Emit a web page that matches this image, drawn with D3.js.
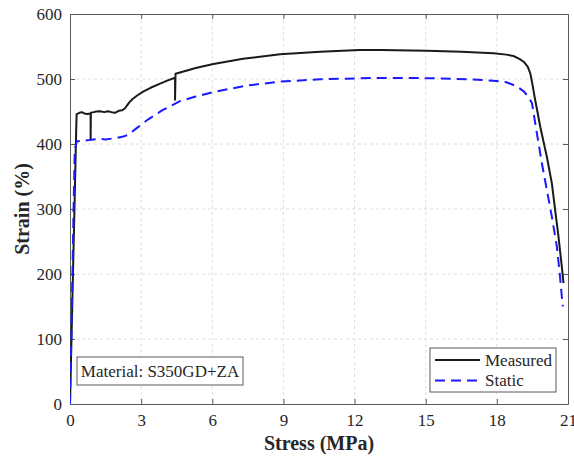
<!DOCTYPE html>
<html>
<head>
<meta charset="utf-8">
<script src="https://cdn.jsdelivr.net/npm/d3@7/dist/d3.min.js"></script>
<style>
  body { margin: 0; background: #fff; }
  text { font-family: "Liberation Serif", "Times New Roman", serif; }
</style>
</head>
<body>
<svg id="chart" width="574" height="457"></svg>
<script>
// Measured curve (stress, strain)
const measuredStress = [0, 0.1, 0.2, 0.26, 0.28, 0.4, 0.5, 0.6, 0.73, 0.87, 0.87, 0.88, 1.0, 1.1, 1.27, 1.45, 1.6, 1.75, 1.9, 2.05, 2.2, 2.32, 2.4, 2.5, 2.65, 2.85, 3.1, 3.4, 3.8, 4.1, 4.43, 4.43, 4.45, 4.64, 5.3, 6.05, 7.3, 8.86, 10.55, 12.2, 13.1, 15.05, 16.5, 17.86, 18.4, 18.7, 18.95, 19.13, 19.3, 19.41, 19.5, 19.59, 19.83, 20.11, 20.32, 20.46, 20.6, 20.74, 20.81];
const measuredStrain = [0, 160, 320, 420, 446, 448, 449, 447, 446, 447, 407, 448, 449, 450, 450.5, 449, 450.5, 449, 448, 451, 452, 455, 459, 464, 469.5, 475, 481, 486.5, 493, 497.5, 502, 468, 508, 510, 517, 523, 531, 538, 542, 544.5, 544.6, 543.5, 542, 539.5, 537.5, 535.4, 531, 526.6, 519, 508.7, 492, 472.8, 426.6, 380, 339.5, 298, 257, 211, 186];

// Static curve
const staticStress = [0, 0.08, 0.15, 0.2, 0.28, 0.5, 0.8, 1.2, 1.5, 1.9, 2.2, 2.45, 2.8, 3.3, 3.9, 4.64, 5.3, 6.05, 7.46, 8.86, 10.55, 12.8, 14.5, 15.6, 16.8, 17.86, 18.4, 18.7, 18.95, 19.13, 19.3, 19.48, 19.69, 19.9, 20.11, 20.32, 20.53, 20.65, 20.74, 20.78];
const staticStrain = [0, 150, 300, 390, 404, 405, 406, 408, 407, 409, 411, 414, 424, 438, 452, 466, 473, 480, 490, 496, 499.5, 501.5, 501.5, 501, 499.5, 497.4, 495, 490.8, 486, 481, 474, 463, 416, 370, 329, 288, 242, 201, 165, 150];

const xTicks = [0, 3, 6, 9, 12, 15, 18, 21];
const yTicks = [0, 100, 200, 300, 400, 500, 600];

const seriesNames = ['Measured', 'Static'];
const annotation = 'Material: S350GD+ZA';

const width = 574, height = 457;
const margin = {top: 14, right: 6, bottom: 53, left: 70};
const innerW = width - margin.left - margin.right;
const innerH = height - margin.top - margin.bottom;

const svg = d3.select('#chart');
const g = svg.append('g').attr('transform', `translate(${margin.left},${margin.top})`);

const x = d3.scaleLinear().domain([0, 21]).range([0, innerW]);
const y = d3.scaleLinear().domain([0, 600]).range([innerH, 0]);

const axisColor = '#5a5a5a';
const labelColor = '#262626';

// grid
g.append('g').selectAll('line')
  .data(xTicks.slice(1, -1))
  .enter().append('line')
  .attr('x1', d => x(d)).attr('x2', d => x(d))
  .attr('y1', 0).attr('y2', innerH)
  .attr('stroke', '#dedede').attr('stroke-dasharray', '3,3');
g.append('g').selectAll('line')
  .data(yTicks.slice(1, -1))
  .enter().append('line')
  .attr('y1', d => y(d)).attr('y2', d => y(d))
  .attr('x1', 0).attr('x2', innerW)
  .attr('stroke', '#dedede').attr('stroke-dasharray', '3,3');

// axes, ticks pointing inward (box style)
const styleAxis = sel => {
  sel.select('.domain').attr('stroke', axisColor);
  sel.selectAll('.tick line').attr('stroke', axisColor);
  sel.selectAll('.tick text').attr('fill', labelColor).style('font-size', '17px')
    .style('font-family', '"Liberation Serif", serif');
};

g.append('g').attr('transform', `translate(0,${innerH})`)
  .call(d3.axisBottom(x).tickValues(xTicks).tickSizeInner(-5).tickSizeOuter(0).tickPadding(10))
  .call(styleAxis);
g.append('g')
  .call(d3.axisLeft(y).tickValues(yTicks).tickSizeInner(-5).tickSizeOuter(0).tickPadding(8))
  .call(styleAxis);
g.append('g')
  .call(d3.axisTop(x).tickValues(xTicks).tickSizeInner(-5).tickSizeOuter(0).tickFormat(''))
  .call(styleAxis);
g.append('g').attr('transform', `translate(${innerW},0)`)
  .call(d3.axisRight(y).tickValues(yTicks).tickSizeInner(-5).tickSizeOuter(0).tickFormat(''))
  .call(styleAxis);

// lines
g.append('clipPath').attr('id', 'clip')
  .append('rect').attr('width', innerW).attr('height', innerH);

const line = d3.line().x(d => x(d[0])).y(d => y(d[1]));
const measured = d3.zip(measuredStress, measuredStrain);
const stat = d3.zip(staticStress, staticStrain);

g.append('path').datum(measured)
  .attr('clip-path', 'url(#clip)')
  .attr('fill', 'none').attr('stroke', '#1a1a1a').attr('stroke-width', 2)
  .attr('stroke-linejoin', 'round')
  .attr('d', line);

g.append('path').datum(stat)
  .attr('clip-path', 'url(#clip)')
  .attr('fill', 'none').attr('stroke', '#1a1aff').attr('stroke-width', 2)
  .attr('stroke-dasharray', '10,6')
  .attr('d', line);

// axis labels
svg.append('text')
  .attr('x', margin.left + innerW / 2).attr('y', 450)
  .attr('text-anchor', 'middle')
  .attr('font-weight', 'bold').attr('font-size', 20).attr('fill', labelColor)
  .text('Stress (MPa)');

svg.append('text')
  .attr('transform', `translate(29,${margin.top + innerH / 2}) rotate(-90)`)
  .attr('text-anchor', 'middle')
  .attr('font-weight', 'bold').attr('font-size', 20).attr('fill', labelColor)
  .text('Strain (%)');

// material box
const mat = g.append('g').attr('transform', 'translate(7,343)');
mat.append('rect').attr('width', 166).attr('height', 28)
  .attr('fill', '#fff').attr('stroke', axisColor);
mat.append('text').attr('x', 83).attr('y', 20)
  .attr('text-anchor', 'middle').attr('font-size', 17).attr('fill', labelColor)
  .text(annotation);

// legend
const leg = g.append('g').attr('transform', `translate(${430 - margin.left},${348 - margin.top})`);
leg.append('rect').attr('width', 126).attr('height', 44)
  .attr('fill', '#fff').attr('stroke', axisColor);
const legStyles = [
  {stroke: '#1a1a1a', dash: null},
  {stroke: '#1a1aff', dash: '10,6'}
];
seriesNames.forEach((name, i) => {
  const row = leg.append('g').attr('transform', `translate(0,${12 + i * 20.5})`);
  row.append('line').attr('x1', 5).attr('x2', 50).attr('y1', 0).attr('y2', 0)
    .attr('stroke', legStyles[i].stroke).attr('stroke-width', 2)
    .attr('stroke-dasharray', legStyles[i].dash);
  row.append('text').attr('x', 55).attr('y', 5.5)
    .attr('font-size', 17).attr('fill', labelColor)
    .text(name);
});
</script>
</body>
</html>
